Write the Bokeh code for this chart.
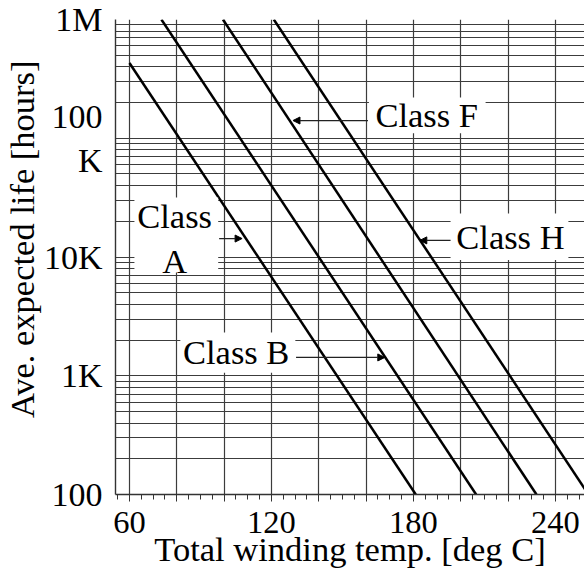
from bokeh.plotting import figure
from bokeh.models import Range1d, FixedTicker, Label, BoxAnnotation, Arrow, NormalHead, Title
from bokeh.embed import file_html
from bokeh.resources import INLINE

# ---- data ----
class_a_temp = [60.0, 181.0]
class_a_life = [430000, 100]
class_b_temp = [73.5, 206.5]
class_b_life = [1000000, 100]
class_f_temp = [99.5, 232.0]
class_f_life = [1000000, 100]
class_h_temp = [121.0, 254.0]
class_h_life = [1000000, 100]

x_ticks = [60, 80, 100, 120, 140, 160, 180, 200, 220, 240]
x_tick_labels = {60: "60", 120: "120", 180: "180", 240: "240"}
y_ticks = [100, 1000, 10000, 100000, 1000000]
y_tick_labels = {100: "100", 1000: "1K", 10000: "10K", 100000: "100\nK", 1000000: "1M"}

FONT = "Liberation Serif"
GRID = "#3c3c3c"

p = figure(width=584, height=573,
           x_range=Range1d(54.1, 252.3), y_range=Range1d(100, 1000000),
           y_axis_type="log", output_backend="svg", toolbar_location=None,
           min_border_left=114, min_border_right=0, min_border_top=19, min_border_bottom=79)
p.outline_line_color = None
p.background_fill_color = "white"

# ticks
x_minor = [t for t in range(55, 255, 5) if t not in x_ticks]
p.xaxis.ticker = FixedTicker(ticks=x_ticks, minor_ticks=x_minor)
y_minor = [m * 10 ** e for e in range(2, 6) for m in range(2, 10)]
p.yaxis.ticker = FixedTicker(ticks=y_ticks, minor_ticks=y_minor)

p.xaxis.major_label_overrides = {t: x_tick_labels.get(t, "") for t in x_ticks}
p.yaxis.major_label_overrides = y_tick_labels

# grids
p.xgrid.grid_line_color = GRID
p.xgrid.grid_line_width = 1.2
p.ygrid.grid_line_color = GRID
p.ygrid.grid_line_width = 1.2
p.ygrid.minor_grid_line_color = GRID
p.ygrid.minor_grid_line_width = 1.2

# axes
for ax in (p.xaxis, p.yaxis):
    ax.major_label_text_font = FONT
    ax.major_label_text_color = "black"
    ax.axis_label_text_font = FONT
    ax.axis_label_text_font_size = "34.5px"
    ax.axis_label_text_font_style = "normal"
    ax.axis_label_text_color = "black"
    ax.axis_line_color = "#333333"
    ax.axis_line_width = 1.4

p.xaxis.major_label_text_font_size = "32.5px"
p.yaxis.major_label_text_font_size = "34px"

p.xaxis.axis_label = "Total winding temp. [deg C]"
p.xaxis.major_tick_in = 0
p.xaxis.major_tick_out = 7
p.xaxis.minor_tick_in = 0
p.xaxis.minor_tick_out = 5
p.xaxis.major_tick_line_color = "#333333"
p.xaxis.minor_tick_line_color = "#333333"
p.xaxis.major_label_standoff = 10
p.xaxis.axis_label_standoff = -6

p.yaxis.major_tick_line_color = None
p.yaxis.minor_tick_line_color = None
p.yaxis.major_label_standoff = 7

# y-axis title, aligned to the upper part of the axis as in the reference
ytitle = Title(text="Ave. expected life [hours]", align="right", offset=41,
               text_font=FONT, text_font_size="34.5px", text_font_style="normal",
               text_color="black", standoff=0)
p.add_layout(ytitle, "left")

# white boxes behind the class labels
for l, r, b, t in [(62.1, 97.5, 7400, 31700),
                   (81.5, 130.1, 1060, 2310),
                   (161.2, 210.5, 110000, 220000),
                   (195.7, 245.5, 9450, 23200)]:
    p.add_layout(BoxAnnotation(left=l, right=r, bottom=b, top=t,
                               fill_color="white", fill_alpha=1.0, line_color=None))

# class lines
for xs, ys in [(class_a_temp, class_a_life), (class_b_temp, class_b_life),
               (class_f_temp, class_f_life), (class_h_temp, class_h_life)]:
    p.line(xs, ys, line_color="black", line_width=2.5)

# arrows
for xs, xe, yy in [(97.9, 107.6, 14300), (160.8, 129.1, 141000),
                   (130.4, 167.9, 1426), (195.7, 182.7, 13800)]:
    p.add_layout(Arrow(end=NormalHead(size=7, fill_color="black", line_color="black"),
                       x_start=xs, y_start=yy, x_end=xe, y_end=yy,
                       line_color="#222222", line_width=1.2))

# labels
for x, y, txt in [(79.1, 14300, "Class\nA"), (185.6, 155600, "Class F"),
                  (105.1, 1571, "Class B"), (221.0, 14600, "Class H")]:
    p.add_layout(Label(x=x, y=y, text=txt, text_font=FONT, text_font_size="34.5px",
                       text_align="center", text_baseline="middle", text_color="black"))

open("out.html", "w").write(file_html(p, INLINE))
